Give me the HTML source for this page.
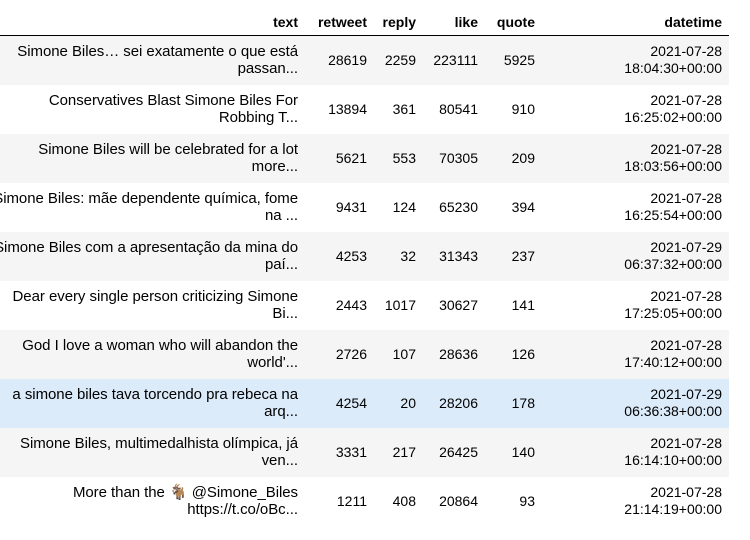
<!DOCTYPE html>
<html><head><meta charset="utf-8"><style>
body{margin:0;width:750px;height:540px;background:#fff;overflow:hidden;position:relative;font-family:"Liberation Sans",Arial,"Noto Sans CJK SC",sans-serif;font-size:14px;color:#000}
table{position:absolute;left:-20px;top:1px;border-collapse:collapse;table-layout:fixed;width:749px}
th,td{text-align:right;padding:0 7px 0 0;vertical-align:middle;white-space:nowrap;overflow:hidden}
th{font-weight:bold;height:34px;border-bottom:1px solid #000;vertical-align:bottom;padding-bottom:5px;box-sizing:border-box}
td{height:49px;line-height:17px}
td.t{font-size:15px;letter-spacing:-0.05px}
tbody tr:nth-child(odd){background:#f5f5f5}
tbody tr.hover{background:#dcebfa}
</style></head><body>
<table>
<colgroup><col style="width:325px"><col style="width:69px"><col style="width:49px"><col style="width:62px"><col style="width:57px"><col style="width:187px"></colgroup>
<thead><tr>
<th>text</th><th>retweet</th><th>reply</th><th>like</th><th>quote</th><th>datetime</th></tr></thead>
<tbody>
<tr><td class="t">Simone Biles… sei exatamente o que está<br>passan...</td><td>28619</td><td>2259</td><td>223111</td><td>5925</td><td>2021-07-28<br>18:04:30+00:00</td></tr>
<tr><td class="t">Conservatives Blast Simone Biles For<br>Robbing T...</td><td>13894</td><td>361</td><td>80541</td><td>910</td><td>2021-07-28<br>16:25:02+00:00</td></tr>
<tr><td class="t">Simone Biles will be celebrated for a lot<br>more...</td><td>5621</td><td>553</td><td>70305</td><td>209</td><td>2021-07-28<br>18:03:56+00:00</td></tr>
<tr><td class="t">Simone Biles: mãe dependente química, fome<br>na ...</td><td>9431</td><td>124</td><td>65230</td><td>394</td><td>2021-07-28<br>16:25:54+00:00</td></tr>
<tr><td class="t">Simone Biles com a apresentação da mina do<br>paí...</td><td>4253</td><td>32</td><td>31343</td><td>237</td><td>2021-07-29<br>06:37:32+00:00</td></tr>
<tr><td class="t">Dear every single person criticizing Simone<br>Bi...</td><td>2443</td><td>1017</td><td>30627</td><td>141</td><td>2021-07-28<br>17:25:05+00:00</td></tr>
<tr><td class="t">God I love a woman who will abandon the<br>world'...</td><td>2726</td><td>107</td><td>28636</td><td>126</td><td>2021-07-28<br>17:40:12+00:00</td></tr>
<tr class="hover"><td class="t">a simone biles tava torcendo pra rebeca na<br>arq...</td><td>4254</td><td>20</td><td>28206</td><td>178</td><td>2021-07-29<br>06:36:38+00:00</td></tr>
<tr><td class="t">Simone Biles, multimedalhista olímpica, já<br>ven...</td><td>3331</td><td>217</td><td>26425</td><td>140</td><td>2021-07-28<br>16:14:10+00:00</td></tr>
<tr><td class="t">More than the 🐐 @Simone_Biles<br>https://t.co/oBc...</td><td>1211</td><td>408</td><td>20864</td><td>93</td><td>2021-07-28<br>21:14:19+00:00</td></tr>
</tbody></table>
</body></html>
